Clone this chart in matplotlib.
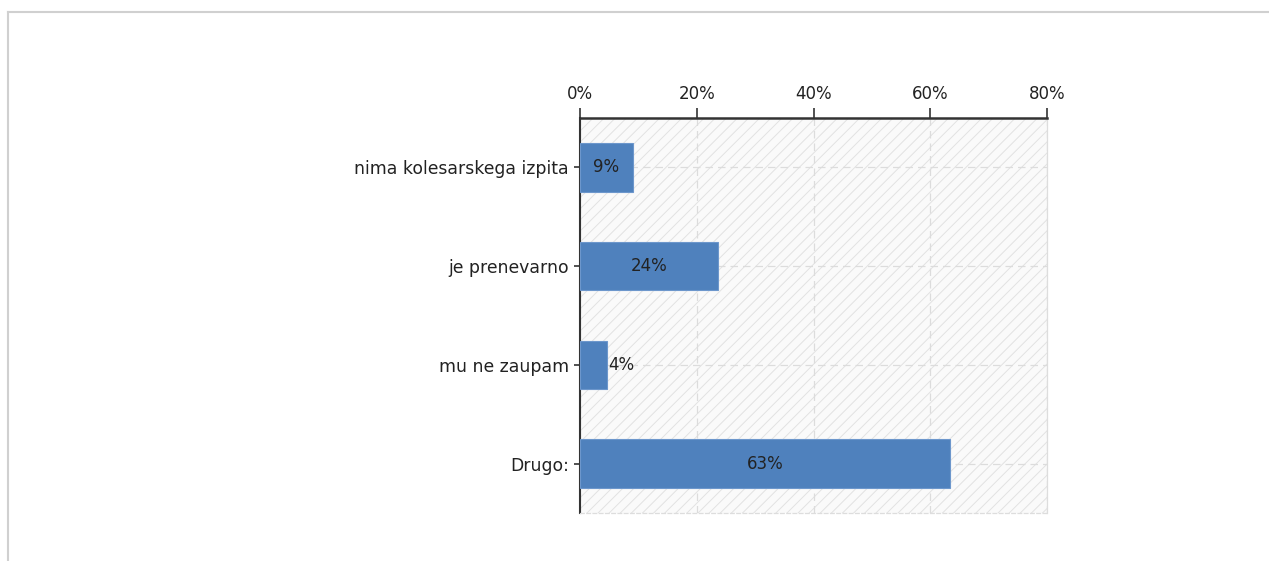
import matplotlib
matplotlib.use("Agg")
import matplotlib.pyplot as plt
from matplotlib.patches import Rectangle
from matplotlib.lines import Line2D

categories = ["nima kolesarskega izpita", "je prenevarno", "mu ne zaupam", "Drugo:"]
values = [9.1, 23.7, 4.6, 63.4]
labels = ["9%", "24%", "4%", "63%"]
xticks = [0, 20, 40, 60, 80]
xticklabels = ["0%", "20%", "40%", "60%", "80%"]

plt.rcParams['font.family'] = ['DejaVu Sans']
plt.rcParams['hatch.linewidth'] = 0.7

W, H = 1269, 561
fig = plt.figure(figsize=(W/100, H/100), dpi=100)
fig.patch.set_facecolor('white')

fig.add_artist(Line2D([8/W, 1.0], [1-12/H, 1-12/H], color='#d0d0d0', lw=1.5, transform=fig.transFigure))
fig.add_artist(Line2D([8/W, 8/W], [0, 1-12/H], color='#d0d0d0', lw=1.5, transform=fig.transFigure))

left, right, top, bottom = 580, 1047, 118, 513
ax = fig.add_axes([left/W, 1-bottom/H, (right-left)/W, (bottom-top)/H])
ax.set_facecolor('#fafafa')
ax.add_patch(Rectangle((0, 0), 1, 1, transform=ax.transAxes, facecolor='none',
                       hatch='///', edgecolor='#e2e2e2', lw=0, zorder=0))

y = list(range(len(categories)))
ax.barh(y, values, height=0.49, color='#4f81bd', edgecolor='#6d97cc', lw=0.8, zorder=3)
ax.set_xlim(0, 80)
ax.set_ylim(3.5, -0.5)

for yi, v, lab in zip(y, values, labels):
    if v < 6:
        ax.text(v + 0.3, yi, lab, ha='left', va='center', fontsize=12, color='#222222', zorder=4)
    else:
        ax.text(v / 2, yi, lab, ha='center', va='center', fontsize=12, color='#222222', zorder=4)

ax.xaxis.tick_top()
ax.set_xticks(xticks)
ax.set_xticklabels(xticklabels, fontsize=12, color='#222222')
ax.set_yticks(y)
ax.set_yticklabels(categories, fontsize=12.4, color='#222222')
ax.tick_params(axis='x', length=7, width=1.2, color='#333333', pad=4)
ax.tick_params(axis='y', length=4, width=1.2, color='#333333', pad=4)

ax.grid(True, axis='both', linestyle=(0, (6, 4)), color='#dcdcdc', lw=0.9, zorder=1)
ax.set_axisbelow(True)

ax.spines['top'].set_color('#333333')
ax.spines['top'].set_linewidth(1.8)
ax.spines['left'].set_color('#333333')
ax.spines['left'].set_linewidth(1.5)
ax.spines['right'].set_color('#dddddd')
ax.spines['right'].set_linewidth(0.9)
ax.spines['bottom'].set_color('#dddddd')
ax.spines['bottom'].set_linestyle((0, (3, 2)))
ax.spines['bottom'].set_linewidth(0.9)

fig.savefig('out.png', dpi=100)
